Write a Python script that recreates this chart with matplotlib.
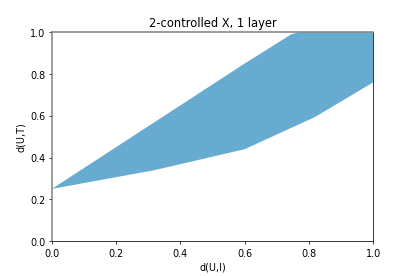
import matplotlib
matplotlib.use('Agg')
import matplotlib.pyplot as plt

# boundary of the reachable region
upper_x = [0.0, 0.32, 0.6, 0.745, 0.77, 1.0]
upper_y = [0.25, 0.57, 0.85, 0.99, 1.0, 1.0]
lower_x = [0.0, 0.32, 0.6, 0.82, 1.0]
lower_y = [0.25, 0.34, 0.44, 0.595, 0.76]

fig, ax = plt.subplots(figsize=(6, 4), dpi=69.17)
fig.subplots_adjust(left=0.125, right=0.899, bottom=0.126, top=0.881)

poly_x = upper_x + lower_x[::-1]
poly_y = upper_y + lower_y[::-1]
ax.fill(poly_x, poly_y, color='#67abd0', linewidth=0)

ax.set_xlim(0, 1)
ax.set_ylim(0, 1)
ax.spines['left'].set_color('#808080')
ax.spines['top'].set_color('#808080')
ax.spines['left'].set_linewidth(1.6)
ax.spines['top'].set_linewidth(1.6)

ax.set_xlabel('d(U,I)')
ax.set_ylabel('d(U,T)')
ax.set_title('2-controlled X, 1 layer')

fig.savefig('out.png')
